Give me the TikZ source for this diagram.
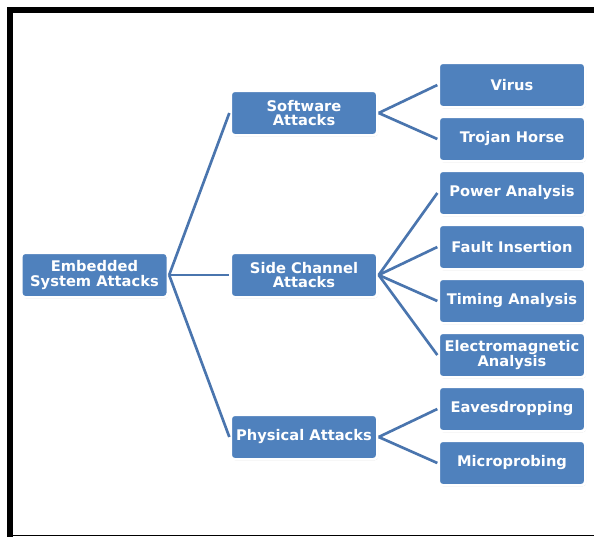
\documentclass[tikz,border=0pt]{standalone}
\usepackage{fontspec}
\setsansfont{DejaVu Sans}
\usetikzlibrary{shadows}
\definecolor{boxb}{HTML}{4F81BD}
\definecolor{lineb}{HTML}{4A75AE}

\begin{document}
\begin{tikzpicture}[x=0.75pt,y=-0.75pt,font=\sffamily\bfseries\fontsize{11}{11}\selectfont,
    attbox/.style={fill=boxb,draw=white,line width=2pt,rounded corners=3pt,text=white,align=center,
      minimum width=110pt,minimum height=33.5pt,inner sep=1pt,
      drop shadow={opacity=0.25,shadow xshift=0.6pt,shadow yshift=-0.9pt}},
    link/.style={lineb,line width=2pt}]
    \useasboundingbox (0,0) rectangle (594,537);
    \fill (7,7) rectangle (594,13);
    \fill (7,7) rectangle (13,537);
    \draw[line width=0.8pt] (7,535.5)--(594,535.5);
    \node[attbox] (root) at (94.5,275) {Embedded\\System Attacks};
    \node[attbox] (soft) at (304,113) {Software\\Attacks};
    \node[attbox] (side) at (304,275) {Side Channel\\Attacks};
    \node[attbox] (phys) at (304,437) {Physical Attacks};
    \foreach \n/\y/\lab in {virus/85/Virus,trojan/139/{Trojan Horse},power/193/{Power Analysis},
      fault/247/{Fault Insertion},timing/301/{Timing Analysis},em/355/{Electromagnetic\\Analysis},
      eaves/409/Eavesdropping,micro/463/Microprobing}
      \node[attbox] (\n) at (512,\y) {\lab};
    \foreach \c in {soft,side,phys}
      \draw[link] (root.east)--(\c.west);
    \foreach \c in {virus,trojan}
      \draw[link] (soft.east)--(\c.west);
    \foreach \c in {power,fault,timing,em}
      \draw[link] (side.east)--(\c.west);
    \foreach \c in {eaves,micro}
      \draw[link] (phys.east)--(\c.west);
  \end{tikzpicture}
\end{document}
